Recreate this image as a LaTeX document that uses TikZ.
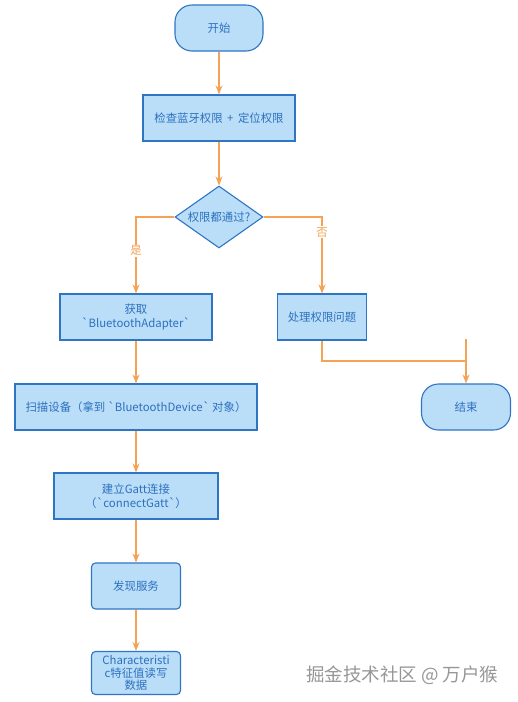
\documentclass[tikz,border=0pt]{standalone}
\usepackage{fontspec}
\newfontfamily\cjk{Noto Sans CJK SC}
\usepackage{tikz}
\usetikzlibrary{arrows.meta,shapes.geometric}
\definecolor{bfill}{RGB}{187,222,248}
\definecolor{bline}{RGB}{46,117,196}
\definecolor{btext}{RGB}{44,112,192}
\definecolor{flow}{RGB}{244,162,84}
\definecolor{mark}{RGB}{150,150,150}

\begin{document}
\begin{tikzpicture}[x=1pt,y=-1pt,font=\cjk\fontsize{11.4}{14}\selectfont,
    box/.style={draw=bline,fill=bfill,text=btext,line width=1.1pt,align=center,
      minimum height=46pt,inner sep=2pt},
    term/.style={box,rounded corners=17pt},
    soft/.style={box,rounded corners=4pt},
    choice/.style={box,diamond,aspect=1.4,minimum height=0pt,minimum width=88pt,inner sep=0pt},
    arr/.style={draw=flow,line width=1.1pt,-{Stealth[length=9pt,width=7pt]}},
    lbl/.style={fill=white,text=flow,inner sep=1pt}]
    \useasboundingbox (0,0) rectangle (518,702);
    % main column
    \node[term,minimum width=88pt] (start) at (219,28) {开始};
    \node[box,minimum width=152pt] (check) at (219,118) {检查蓝牙权限 \,+\, 定位权限};
    \node[choice,minimum height=62pt] (ok) at (219,217) {权限都通过?};
    \node[box,minimum width=152pt] (adapter) at (136,317) {获取\\`BluetoothAdapter`};
    \node[box,minimum width=242pt] (scan) at (136,407) {扫描设备（拿到 `BluetoothDevice` 对象）};
    \node[box,minimum width=164pt] (gatt) at (136,496) {建立Gatt连接\\（`connectGatt`）};
    \node[soft,minimum width=89pt] (serv) at (136,586) {发现服务};
    \node[soft,minimum width=89pt,minimum height=43pt,inner sep=0pt,
      font=\cjk\fontsize{11.4}{12.8}\selectfont] (chr) at (136,673) {Characteristi\\c特征值读写\\数据};
    % failure side
    \node[box,minimum width=89pt] (fix) at (322,317) {处理权限问题};
    \node[term,minimum width=89pt] (end) at (466,407) {结束};
    \coordinate (stub) at (466,339);

    \draw[arr] (start) -- (check);
    \draw[arr] (check) -- (ok);
    \draw[arr] (ok.west) -| (adapter.north) node[lbl,pos=.72]{是};
    \draw[arr] (ok.east) -| (fix.north) node[lbl,pos=.6]{否};
    \draw[arr] (adapter) -- (scan);
    \draw[arr] (scan) -- (gatt);
    \draw[arr] (gatt) -- (serv);
    \draw[arr] (serv) -- (chr);
    \draw[flow,line width=1.1pt] (fix.south) |- (466,361);
    \draw[arr] (stub) -- (end);

    \node[text=mark,font=\cjk\fontsize{18.5}{22}\selectfont,anchor=east] (wm) at (502,675) {掘金技术社区 @ 万户猴};
  \end{tikzpicture}
\end{document}
